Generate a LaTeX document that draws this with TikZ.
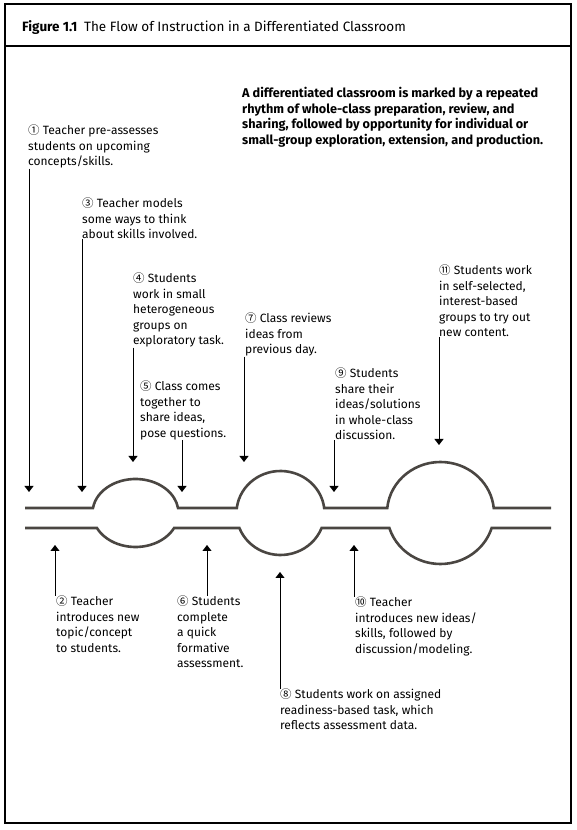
\documentclass[tikz,border=0pt]{standalone}
\usepackage{fontspec}
\setmainfont{Fira Sans}
\newfontfamily\circfont{Noto Sans CJK SC}
\usepackage{tikz}
\usetikzlibrary{arrows.meta}

\definecolor{flowgray}{RGB}{74,70,66}
\newcommand{\cnum}[1]{{\circfont\fontsize{11.5}{10}\selectfont #1}}
\newcommand{\notefont}{\fontsize{12}{15.5}\selectfont}

\tikzset{
  note/.style={anchor=north west, align=left, inner sep=0pt, font=\notefont},
  arr/.style={-{Triangle[width=9pt,length=6pt]}, line width=0.9pt},
  flow/.style={line width=2.6pt, flowgray}
}

\begin{document}
\begin{tikzpicture}[x=1pt,y=1pt]
    \useasboundingbox (0,0) rectangle (576,830);

    % frame and title
    \draw[line width=1.1pt] (5,7) rectangle (571,826);
    \draw[line width=1.1pt] (5,784) -- (571,784);
    \node[anchor=base west, inner sep=0pt, font=\fontsize{13.5}{15}\selectfont] (TITLE) at (22,798)
        {\textbf{Figure 1.1}\enspace The Flow of Instruction in a Differentiated Classroom};

    \node[note, font=\fontsize{12.7}{15.7}\selectfont\bfseries] (RHYTHM) at (242,743)
        {A differentiated classroom is marked by a repeated\\rhythm of whole-class preparation, review, and\\sharing, followed by opportunity for individual or\\small-group exploration, extension, and production.};

    % the flow: two lines with bumps
    \draw[flow] (25,322) -- ({135.5-43*cos(asin(5/34))},322)
        arc[start angle={180-asin(5/34)}, end angle={asin(5/34)}, x radius=43pt, y radius=34pt]
        -- ({280.5-44*cos(asin(5/42))},322)
        arc[start angle={180-asin(5/42)}, end angle={asin(5/42)}, x radius=44pt, y radius=42pt]
        -- ({440.5-53.5*cos(asin(5/51))},322)
        arc[start angle={180-asin(5/51)}, end angle={asin(5/51)}, x radius=53.5pt, y radius=51pt]
        -- (551,322);
    \draw[flow] (25,302) -- ({135.5-43*cos(asin(15/34))},302)
        arc[start angle={180+asin(15/34)}, end angle={360-asin(15/34)}, x radius=43pt, y radius=34pt]
        -- ({280.5-44*cos(asin(15/42))},302)
        arc[start angle={180+asin(15/42)}, end angle={360-asin(15/42)}, x radius=44pt, y radius=42pt]
        -- ({440.5-53.5*cos(asin(15/51))},302)
        arc[start angle={180+asin(15/51)}, end angle={360-asin(15/51)}, x radius=53.5pt, y radius=51pt]
        -- (551,302);

    % notes above
        \node[note] (PRE) at (28,705) {\cnum{①} Teacher pre-assesses\\students on upcoming\\concepts/skills.};
        \node[note] (MODEL) at (82,632) {\cnum{③} Teacher models\\some ways to think\\about skills involved.};
        \node[note] (EXPL) at (133,557) {\cnum{④} Students\\work in small\\heterogeneous\\groups on\\exploratory task.};
        \node[note] (SHARE) at (140,449) {\cnum{⑤} Class comes\\together to\\share ideas,\\pose questions.};
        \node[note] (REV) at (245,517) {\cnum{⑦} Class reviews\\ideas from\\previous day.};
        \node[note] (DISC) at (335,462) {\cnum{⑨} Students\\share their\\ideas/solutions\\in whole-class\\discussion.};
        \node[note] (INT) at (439,565) {\cnum{⑪} Students work\\in self-selected,\\interest-based\\groups to try out\\new content.};

    % notes below
        \node[note] (INTRO) at (56,234) {\cnum{②} Teacher\\introduces new\\topic/concept\\to students.};
        \node[note] (FORM) at (177,234) {\cnum{⑥} Students\\complete\\a quick\\formative\\assessment.};
        \node[note] (NEW) at (355,233) {\cnum{⑩} Teacher\\introduces new ideas/\\skills, followed by\\discussion/modeling.};
        \node[note] (TASK) at (280,141) {\cnum{⑧} Students work on assigned\\readiness-based task, which\\reflects assessment data.};

    % arrow tips on the flow
        \coordinate (tipPRE) at (29,338);
        \coordinate (tipMODEL) at (82,338);
        \coordinate (tipEXPL) at (133,368);
        \coordinate (tipSHARE) at (182,338);
        \coordinate (tipREV) at (244,368);
        \coordinate (tipDISC) at (334,338);
        \coordinate (tipINT) at (439,385);
        \coordinate (tipINTRO) at (55,285);
        \coordinate (tipFORM) at (207,285);
        \coordinate (tipTASK) at (280,258);
        \coordinate (tipNEW) at (354,285);

        \draw[arr] (PRE.south west -| tipPRE) -- (tipPRE);
        \draw[arr] (MODEL.south west -| tipMODEL) -- (tipMODEL);
        \draw[arr] (EXPL.south west -| tipEXPL) -- (tipEXPL);
        \draw[arr] (SHARE.south -| tipSHARE) -- (tipSHARE);
        \draw[arr] (REV.south west -| tipREV) -- (tipREV);
        \draw[arr] (DISC.south west -| tipDISC) -- (tipDISC);
        \draw[arr] (INT.south west -| tipINT) -- (tipINT);

        \draw[arr] (INTRO.north west -| tipINTRO) -- (tipINTRO);
        \draw[arr] (FORM.north -| tipFORM) -- (tipFORM);
        \draw[arr] (TASK.north west -| tipTASK) -- (tipTASK);
        \draw[arr] (NEW.north west -| tipNEW) -- (tipNEW);

    \end{tikzpicture}
\end{document}
